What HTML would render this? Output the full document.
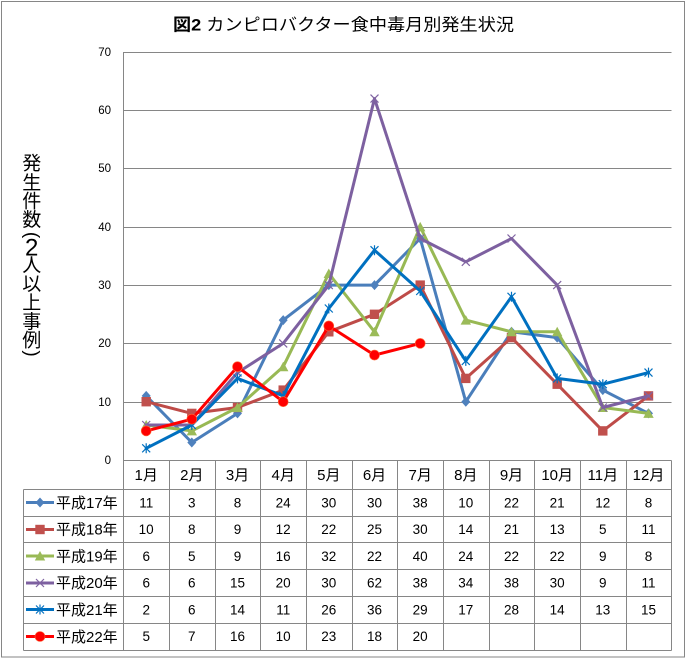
<!DOCTYPE html>
<html><head><meta charset="utf-8">
<style>
html,body{margin:0;padding:0;background:#fff;}
#wrap{position:relative;width:688px;height:659px;overflow:hidden;}
svg{position:absolute;left:0;top:0;}
</style></head><body><div id="wrap">
<svg width="688" height="659" viewBox="0 0 688 659" xmlns="http://www.w3.org/2000/svg">
<defs>
<marker id="mD" markerUnits="userSpaceOnUse" markerWidth="12" markerHeight="12" viewBox="-6 -6 12 12" refX="0" refY="0" overflow="visible"><path d="M0,-5 L4.5,0 L0,5 L-4.5,0 Z" fill="#4F81BD"/></marker>
<marker id="mS" markerUnits="userSpaceOnUse" markerWidth="12" markerHeight="12" viewBox="-6 -6 12 12" refX="0" refY="0" overflow="visible"><rect x="-4.7" y="-4.7" width="9.4" height="9.4" fill="#C0504D"/></marker>
<marker id="mT" markerUnits="userSpaceOnUse" markerWidth="12" markerHeight="12" viewBox="-6 -6 12 12" refX="0" refY="0" overflow="visible"><path d="M0,-5 L5.2,4.5 L-5.2,4.5 Z" fill="#9BBB59"/></marker>
<marker id="mX" markerUnits="userSpaceOnUse" markerWidth="12" markerHeight="12" viewBox="-6 -6 12 12" refX="0" refY="0" overflow="visible"><path d="M-4,-4 L4,4 M-4,4 L4,-4" stroke="#8064A2" stroke-width="1.2" fill="none"/></marker>
<marker id="mA" markerUnits="userSpaceOnUse" markerWidth="12" markerHeight="12" viewBox="-6 -6 12 12" refX="0" refY="0" overflow="visible"><path d="M-4,-4 L4,4 M-4,4 L4,-4 M0,-5 L0,5" stroke="#0070C0" stroke-width="1.2" fill="none"/></marker>
<marker id="mC" markerUnits="userSpaceOnUse" markerWidth="12" markerHeight="12" viewBox="-6 -6 12 12" refX="0" refY="0" overflow="visible"><circle cx="0" cy="0" r="5" fill="#FF0000" stroke="#FF6A3A" stroke-width="0.6"/></marker>
</defs>
<rect x="0" y="0" width="688" height="659" fill="#fff"/>
<rect x="1.5" y="1.5" width="683" height="655.5" fill="none" stroke="#868686" stroke-width="1"/>

<text x="173" y="30.5" font-family="Liberation Sans, Noto Sans CJK JP, sans-serif" font-size="17" textLength="341" lengthAdjust="spacingAndGlyphs" fill="#000"><tspan font-weight="bold">図2</tspan> カンピロバクター食中毒月別発生状況</text>

<!-- vertical axis title -->
<g font-family="Liberation Sans, Noto Sans CJK JP, sans-serif" font-size="19" fill="#000" text-anchor="middle" dominant-baseline="central">
<text x="31.7" y="164">発</text>
<text x="31.7" y="183.3">生</text>
<text x="31.7" y="201.8">件</text>
<text x="31.7" y="220.5">数</text>
<text x="31.7" y="235" transform="rotate(90 31.7 235)">(</text>
<text x="31.7" y="248" font-size="24">2</text>
<text x="31.7" y="266">人</text>
<text x="31.7" y="284.6">以</text>
<text x="31.7" y="303.4">上</text>
<text x="31.7" y="322.3">事</text>
<text x="31.7" y="341">例</text>
<text x="31.7" y="353.5" transform="rotate(90 31.7 353.5)">)</text>
</g>

<!-- grid -->
<g stroke="#868686" stroke-width="1" fill="none">
<line x1="123.5" y1="52.5" x2="671.5" y2="52.5"/>
<line x1="123.5" y1="110.5" x2="671.5" y2="110.5"/>
<line x1="123.5" y1="168.5" x2="671.5" y2="168.5"/>
<line x1="123.5" y1="227.5" x2="671.5" y2="227.5"/>
<line x1="123.5" y1="285.5" x2="671.5" y2="285.5"/>
<line x1="123.5" y1="343.5" x2="671.5" y2="343.5"/>
<line x1="123.5" y1="402.5" x2="671.5" y2="402.5"/>
<line x1="123.5" y1="52" x2="123.5" y2="489.5"/>
</g>
<g font-family="Liberation Sans, sans-serif" font-size="11.5" fill="#000" text-anchor="end">
<text x="111" y="56">70</text>
<text x="111" y="114">60</text>
<text x="111" y="172">50</text>
<text x="111" y="231">40</text>
<text x="111" y="289">30</text>
<text x="111" y="347">20</text>
<text x="111" y="406">10</text>
<text x="111" y="464">0</text>
</g>

<!-- table grid -->
<g stroke="#868686" stroke-width="1" fill="none">
<line x1="123.5" y1="460.5" x2="671.5" y2="460.5"/>
<line x1="23.5" y1="489.5" x2="671.5" y2="489.5"/>
<line x1="23.5" y1="516.5" x2="671.5" y2="516.5"/>
<line x1="23.5" y1="542.5" x2="671.5" y2="542.5"/>
<line x1="23.5" y1="569.5" x2="671.5" y2="569.5"/>
<line x1="23.5" y1="596.5" x2="671.5" y2="596.5"/>
<line x1="23.5" y1="623.5" x2="671.5" y2="623.5"/>
<line x1="23.5" y1="650.5" x2="671.5" y2="650.5"/>
<line x1="23.5" y1="489.5" x2="23.5" y2="650.5"/>
<line x1="123.5" y1="460.5" x2="123.5" y2="650.5"/>
<line x1="169.5" y1="460.5" x2="169.5" y2="650.5"/>
<line x1="215.5" y1="460.5" x2="215.5" y2="650.5"/>
<line x1="260.5" y1="460.5" x2="260.5" y2="650.5"/>
<line x1="306.5" y1="460.5" x2="306.5" y2="650.5"/>
<line x1="352.5" y1="460.5" x2="352.5" y2="650.5"/>
<line x1="397.5" y1="460.5" x2="397.5" y2="650.5"/>
<line x1="443.5" y1="460.5" x2="443.5" y2="650.5"/>
<line x1="489.5" y1="460.5" x2="489.5" y2="650.5"/>
<line x1="534.5" y1="460.5" x2="534.5" y2="650.5"/>
<line x1="580.5" y1="460.5" x2="580.5" y2="650.5"/>
<line x1="626.5" y1="460.5" x2="626.5" y2="650.5"/>
<line x1="671.5" y1="460.5" x2="671.5" y2="650.5"/>
</g>

<!-- month headers -->
<g font-family="Liberation Sans, Noto Sans CJK JP, sans-serif" font-size="15" fill="#000" text-anchor="middle">
<text x="146.2" y="480">1月</text>
<text x="191.8" y="480">2月</text>
<text x="237.5" y="480">3月</text>
<text x="283.2" y="480">4月</text>
<text x="328.8" y="480">5月</text>
<text x="374.5" y="480">6月</text>
<text x="420.2" y="480">7月</text>
<text x="465.8" y="480">8月</text>
<text x="511.5" y="480">9月</text>
<text x="557.2" y="480">10月</text>
<text x="602.8" y="480">11月</text>
<text x="648.5" y="480">12月</text>
</g>

<!-- table values -->
<g font-family="Liberation Sans, sans-serif" font-size="13.5" fill="#000" text-anchor="middle">
<g transform="translate(0,507.3)">
<text x="146.2">11</text><text x="191.8">3</text><text x="237.5">8</text><text x="283.2">24</text><text x="328.8">30</text><text x="374.5">30</text><text x="420.2">38</text><text x="465.8">10</text><text x="511.5">22</text><text x="557.2">21</text><text x="602.8">12</text><text x="648.5">8</text>
</g>
<g transform="translate(0,534)">
<text x="146.2">10</text><text x="191.8">8</text><text x="237.5">9</text><text x="283.2">12</text><text x="328.8">22</text><text x="374.5">25</text><text x="420.2">30</text><text x="465.8">14</text><text x="511.5">21</text><text x="557.2">13</text><text x="602.8">5</text><text x="648.5">11</text>
</g>
<g transform="translate(0,560.8)">
<text x="146.2">6</text><text x="191.8">5</text><text x="237.5">9</text><text x="283.2">16</text><text x="328.8">32</text><text x="374.5">22</text><text x="420.2">40</text><text x="465.8">24</text><text x="511.5">22</text><text x="557.2">22</text><text x="602.8">9</text><text x="648.5">8</text>
</g>
<g transform="translate(0,587.6)">
<text x="146.2">6</text><text x="191.8">6</text><text x="237.5">15</text><text x="283.2">20</text><text x="328.8">30</text><text x="374.5">62</text><text x="420.2">38</text><text x="465.8">34</text><text x="511.5">38</text><text x="557.2">30</text><text x="602.8">9</text><text x="648.5">11</text>
</g>
<g transform="translate(0,614.4)">
<text x="146.2">2</text><text x="191.8">6</text><text x="237.5">14</text><text x="283.2">11</text><text x="328.8">26</text><text x="374.5">36</text><text x="420.2">29</text><text x="465.8">17</text><text x="511.5">28</text><text x="557.2">14</text><text x="602.8">13</text><text x="648.5">15</text>
</g>
<g transform="translate(0,641.2)">
<text x="146.2">5</text><text x="191.8">7</text><text x="237.5">16</text><text x="283.2">10</text><text x="328.8">23</text><text x="374.5">18</text><text x="420.2">20</text>
</g>
</g>

<!-- legend -->
<g fill="none" stroke-width="3">
<path d="M26,502.5 L40,502.5 L54,502.5" stroke="#4A7EBB" marker-mid="url(#mD)"/>
<path d="M26,529.5 L40,529.5 L54,529.5" stroke="#BE4B48" marker-mid="url(#mS)"/>
<path d="M26,556 L40,556 L54,556" stroke="#98B954" marker-mid="url(#mT)"/>
<path d="M26,583 L40,583 L54,583" stroke="#7D60A0" marker-mid="url(#mX)"/>
<path d="M26,609.5 L40,609.5 L54,609.5" stroke="#0070C0" marker-mid="url(#mA)"/>
<path d="M26,636.5 L40,636.5 L54,636.5" stroke="#FF0000" marker-mid="url(#mC)"/>
</g>
<g font-family="Liberation Sans, Noto Sans CJK JP, sans-serif" font-size="15" fill="#000">
<text x="56" y="507.8">平成17年</text>
<text x="56" y="534.6">平成18年</text>
<text x="56" y="561.4">平成19年</text>
<text x="56" y="588.2">平成20年</text>
<text x="56" y="615">平成21年</text>
<text x="56" y="641.8">平成22年</text>
</g>

<!-- series -->
<g fill="none" stroke-width="3" stroke-linejoin="round" stroke-linecap="round">
<polyline stroke="#4A7EBB" marker-start="url(#mD)" marker-mid="url(#mD)" marker-end="url(#mD)" points="146.2,395.9 191.8,442.5 237.5,413.4 283.2,320.1 328.8,285.1 374.5,285.1 420.2,238.5 465.8,401.7 511.5,331.8 557.2,337.6 602.8,390.1 648.5,413.4"/>
<polyline stroke="#BE4B48" marker-start="url(#mS)" marker-mid="url(#mS)" marker-end="url(#mS)" points="146.2,401.7 191.8,413.4 237.5,407.5 283.2,390.1 328.8,331.8 374.5,314.3 420.2,285.1 465.8,378.4 511.5,337.6 557.2,384.2 602.8,430.9 648.5,395.9"/>
<polyline stroke="#98B954" marker-start="url(#mT)" marker-mid="url(#mT)" marker-end="url(#mT)" points="146.2,425.0 191.8,430.9 237.5,407.5 283.2,366.7 328.8,273.5 374.5,331.8 420.2,226.9 465.8,320.1 511.5,331.8 557.2,331.8 602.8,407.5 648.5,413.4"/>
<polyline stroke="#7D60A0" marker-start="url(#mX)" marker-mid="url(#mX)" marker-end="url(#mX)" points="146.2,425.0 191.8,425.0 237.5,372.6 283.2,343.4 328.8,285.1 374.5,98.6 420.2,238.5 465.8,261.8 511.5,238.5 557.2,285.1 602.8,407.5 648.5,395.9"/>
<polyline stroke="#0070C0" marker-start="url(#mA)" marker-mid="url(#mA)" marker-end="url(#mA)" points="146.2,448.3 191.8,425.0 237.5,378.4 283.2,395.9 328.8,308.5 374.5,250.2 420.2,291.0 465.8,360.9 511.5,296.8 557.2,378.4 602.8,384.2 648.5,372.6"/>
<polyline stroke="#FF0000" marker-start="url(#mC)" marker-mid="url(#mC)" marker-end="url(#mC)" points="146.2,430.9 191.8,419.2 237.5,366.7 283.2,401.7 328.8,325.9 374.5,355.1 420.2,343.4"/>
</g>
</svg>
</div></body></html>
